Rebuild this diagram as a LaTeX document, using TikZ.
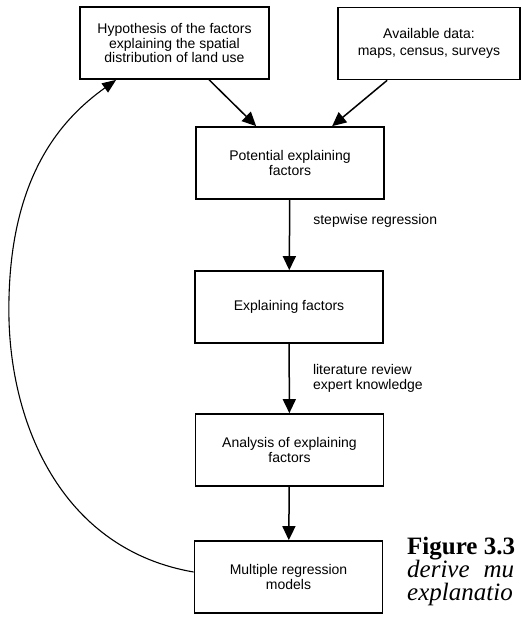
\documentclass[tikz,border=0pt]{standalone}
\usepackage{fontspec}
\setmainfont{Liberation Sans}
\newfontfamily\capfont{Liberation Serif}
\usetikzlibrary{arrows.meta,calc}
\begin{document}
\begin{tikzpicture}[x=1pt,y=-1pt,
  box/.style={draw,line width=1.7pt,inner sep=0pt,align=center,
    minimum width=188pt,minimum height=72pt,font=\fontsize{14}{14.5}\selectfont},
  flow/.style={line width=1.5pt,-{Triangle[length=14pt,width=13pt]}},
  lbl/.style={inner sep=0pt,anchor=west,align=left,font=\fontsize{14}{15}\selectfont},
  capline/.style={inner sep=0pt,anchor=base west}]
\useasboundingbox (0,0) rectangle (521,626);
\clip (0,0) rectangle (521,626);
\node[box,minimum width=189pt] (H) at (174.5,43) {Hypothesis of the factors\\explaining the spatial\\distribution of land use};
\node[box,minimum width=182pt,font=\fontsize{14}{17}\selectfont] (A) at (429,43.5) {Available data:\\maps, census, surveys};
\node[box] (P) at (290,163) {Potential explaining\\factors};
\node[box] (E) at (289,307) {Explaining factors};
\node[box,font=\fontsize{14}{13}\selectfont] (N) at (289.5,450) {Analysis of explaining\\factors};
\node[box,font=\fontsize{14}{12}\selectfont] (M) at (288.5,577) {Multiple regression\\models};
\coordinate (hout) at ($(H.south west)+(130,0)$);
\coordinate (aout) at ($(A.south west)+(50,0)$);
\coordinate (pin1) at ($(P.north west)+(61,0)$);
\coordinate (pin2) at ($(P.north west)+(137,0)$);
\draw[flow] (hout) -- (pin1);
\draw[flow] (aout) -- (pin2);
\draw[flow] (P) -- (E) node[lbl,pos=0.3,xshift=23pt] (l1) {stepwise regression};
\draw[flow] (E) -- (N) node[lbl,midway,xshift=23pt] (l2) {literature review\\expert knowledge};
\draw[flow] (N) -- (M);
\coordinate (mstart) at ($(M.west)+(0,-5)$);
\coordinate (hend) at ($(H.south west)+(37,0)$);
\draw[line width=1.1pt,-{Triangle[length=14pt,width=11pt]}] (mstart) .. controls (65,550) and (12,430) .. (9,320) .. controls (6,180) and (60,120) .. (hend);
\node[capline,font=\capfont\bfseries\fontsize{25}{23}\selectfont] (c1) at (407,554) {Figure 3.3};
\node[capline,font=\capfont\itshape\fontsize{25}{23}\selectfont] (c2) at (407,577) {derive\hspace{14pt}mu};
\node[capline,font=\capfont\itshape\fontsize{25}{23}\selectfont] (c3) at (407,600) {explanatio};
\end{tikzpicture}
\end{document}
